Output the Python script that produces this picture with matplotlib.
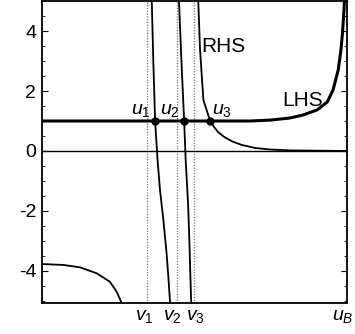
import matplotlib
matplotlib.use("Agg")
import matplotlib.pyplot as plt
from matplotlib.ticker import MultipleLocator

plt.rcParams['font.family'] = ['Liberation Sans', 'DejaVu Sans']
plt.rcParams['mathtext.fontset'] = 'custom'
plt.rcParams['mathtext.it'] = 'Liberation Sans:italic'
plt.rcParams['mathtext.rm'] = 'Liberation Sans'
plt.rcParams['axes.unicode_minus'] = False

# x runs from 0 to u_B = 1
v_pos = [0.343, 0.441, 0.499]
x_ticks = [0.343, 0.441, 0.499, 1.0]
x_labels = [r'$v_\mathit{1}$', r'$v_\mathit{2}$', r'$v_\mathit{3}$', r'$u_B$']
x_label_pos = [0.336, 0.428, 0.503, 0.985]

# LHS curve
lhs_x = [0.0, 0.682, 0.747, 0.812, 0.855, 0.901, 0.934, 0.953, 0.970, 0.979, 0.984, 0.989, 0.991]
lhs_y = [1.0, 1.0, 1.03, 1.1, 1.2, 1.37, 1.63, 2.03, 2.7, 3.37, 3.93, 4.7, 5.2]

# RHS branches
rhs0_x = [0.0, 0.070, 0.125, 0.180, 0.223, 0.245, 0.262, 0.266]
rhs0_y = [-3.77, -3.8, -3.88, -4.08, -4.36, -4.69, -5.08, -5.3]

rhs1_x = [0.358, 0.360, 0.365, 0.371, 0.379, 0.387, 0.398, 0.409, 0.415, 0.420, 0.421]
rhs1_y = [5.23, 5.03, 3.03, 1.0, -0.3, -1.3, -2.3, -3.47, -4.3, -5.07, -5.3]

rhs2_x = [0.448, 0.449, 0.457, 0.466, 0.471, 0.479, 0.483, 0.489, 0.490]
rhs2_y = [5.3, 5.03, 3.03, 1.0, -0.3, -1.8, -2.97, -5.07, -5.3]

rhs3_x = [0.510, 0.512, 0.518, 0.529, 0.551, 0.564, 0.577, 0.597, 0.623, 0.655, 0.698, 0.747, 0.812, 0.999]
rhs3_y = [5.2, 5.03, 3.37, 1.7, 1.0, 0.8, 0.63, 0.47, 0.32, 0.2, 0.1, 0.05, 0.02, 0.0]

# intersections
u_x = [0.371, 0.466, 0.551]
u_names = [r'$u_\mathit{1}$', r'$u_\mathit{2}$', r'$u_\mathit{3}$']
u_label_x = [0.323, 0.420, 0.588]

fig = plt.figure(figsize=(3.55, 3.34), dpi=100)
ax = fig.add_axes([0.1175, 0.0928, 0.861, 0.904])

for v in v_pos:
    ax.axvline(v, color='0.45', lw=0.9, ls=(0, (1, 1.2)))
ax.axhline(0, color='black', lw=1.0)

ax.plot(lhs_x, lhs_y, color='black', lw=2.2, solid_capstyle='butt')
for xs, ys in [(rhs0_x, rhs0_y), (rhs1_x, rhs1_y), (rhs2_x, rhs2_y), (rhs3_x, rhs3_y)]:
    ax.plot(xs, ys, color='black', lw=1.3)

ax.plot(u_x, [1.0] * len(u_x), 'o', color='black', ms=5, zorder=5)
for lx, name in zip(u_label_x, u_names):
    ax.text(lx, 1.35, name, fontsize=14, ha='center', va='center')

ax.text(0.593, 3.47, 'RHS', fontsize=15, ha='center', va='center')
ax.text(0.855, 1.7, 'LHS', fontsize=15, ha='center', va='center')

ax.set_xlim(0, 1.0)
ax.set_ylim(-5.07, 5.0)
ax.set_xticks(x_ticks)
ax.set_xticklabels([])
for lx, name in zip(x_label_pos, x_labels):
    ax.text(lx, -0.045, name, fontsize=14, ha='center', va='center',
            transform=ax.get_xaxis_transform())
ax.set_yticks([-4, -2, 0, 2, 4])
ax.yaxis.set_minor_locator(MultipleLocator(0.5))
ax.tick_params(axis='x', length=0)
ax.tick_params(axis='y', which='both', direction='in', right=True, labelsize=14, pad=4)
ax.tick_params(axis='y', which='major', length=4)
ax.tick_params(axis='y', which='minor', length=2.5)
for s in ax.spines.values():
    s.set_linewidth(1.3)

fig.savefig('out.png', dpi=100)
